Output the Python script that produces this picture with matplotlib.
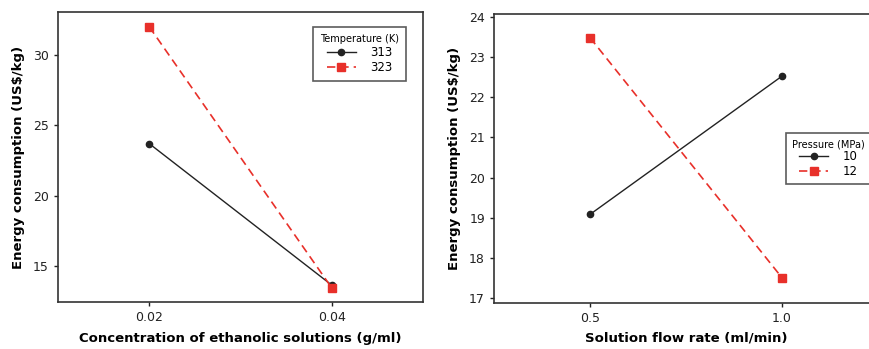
import matplotlib.pyplot as plt

# left panel: concentration vs energy consumption
conc = [0.02, 0.04]
temp_313 = [23.7, 13.65]
temp_323 = [32.0, 13.45]

# right panel: flow rate vs energy consumption
flow = [0.5, 1.0]
press_10 = [19.08, 22.53]
press_12 = [23.49, 17.5]

BLACK = "#222222"
RED = "#e8302a"


def style_axes(ax):
    for s in ax.spines.values():
        s.set_linewidth(1.2)
        s.set_color("#333333")
    ax.tick_params(direction="out", length=3, width=1, labelsize=9, colors="#222222")


def draw_pair(ax, x, a, b, labels):
    ax.plot(x, a, color=BLACK, lw=1, marker="o", ms=4.5, label=labels[0])
    ax.plot(x, b, color=RED, lw=1.2, ls=(0, (5, 3)), marker="s", ms=5.5,
            mfc=RED, mec=RED, label=labels[1])


fig = plt.figure(figsize=(8.7, 3.49), dpi=100)

ax1 = fig.add_axes([58 / 870, 1 - 302 / 349, 365 / 870, 290 / 349])
draw_pair(ax1, conc, temp_313, temp_323, ["313", "323"])
ax1.set_xlim(0.01, 0.05)
ax1.set_ylim(12.45, 33.05)
ax1.set_xticks(conc)
ax1.set_xticklabels(["0.02", "0.04"])
ax1.set_yticks([15, 20, 25, 30])
ax1.set_xlabel("Concentration of ethanolic solutions (g/ml)", fontsize=9.5, fontweight="bold", labelpad=6)
ax1.set_ylabel("Energy consumption (US$/kg)", fontsize=9.5, fontweight="bold", labelpad=6)
style_axes(ax1)
leg1 = ax1.legend(title="Temperature (K)", loc="upper right", bbox_to_anchor=(0.97, 0.97),
                  fontsize=8.5, title_fontsize=7, frameon=True, fancybox=False,
                  handlelength=2.5, handletextpad=1.2, borderpad=0.6, labelspacing=0.2)
leg1.get_frame().set_edgecolor("#333333")
leg1.get_frame().set_linewidth(1.2)

ax2 = fig.add_axes([494 / 870, 1 - 303 / 349, 384 / 870, 289 / 349])
draw_pair(ax2, flow, press_10, press_12, ["10", "12"])
ax2.set_xlim(0.25, 1.25)
ax2.set_ylim(16.87, 24.08)
ax2.set_xticks(flow)
ax2.set_xticklabels(["0.5", "1.0"])
ax2.set_yticks(range(17, 25))
ax2.set_xlabel("Solution flow rate (ml/min)", fontsize=9.5, fontweight="bold", labelpad=5)
ax2.set_ylabel("Energy consumption (US$/kg)", fontsize=9.5, fontweight="bold", labelpad=6)
style_axes(ax2)
leg2 = ax2.legend(title="Pressure (MPa)", loc="center left", bbox_to_anchor=(0.745, 0.5),
                  fontsize=8.5, title_fontsize=7, frameon=True, fancybox=False,
                  handlelength=2.5, handletextpad=1.2, borderpad=0.5, labelspacing=0.1)
leg2.get_frame().set_edgecolor("#333333")
leg2.get_frame().set_linewidth(1.2)

fig.savefig("out.png", dpi=100)
